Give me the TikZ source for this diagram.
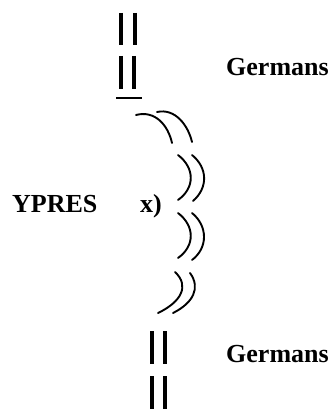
\documentclass[tikz,border=0pt]{standalone}
\usepackage{fontspec}
\setmainfont{Liberation Serif}
\begin{document}
\begin{tikzpicture}[x=1pt,y=-1pt,
  label/.style={anchor=base west,inner sep=0pt,font=\bfseries\fontsize{26}{30}\selectfont},
  trench/.style={line width=3.6pt},
  baseline rule/.style={line width=2.2pt},
  front/.style={line width=1.9pt,line cap=round}]
\useasboundingbox[fill=white] (0,0) rectangle (329,409);

% labels
\node[label] (gtop) at (226,76) {Germans};
\node[label] (ypres) at (12,212) {YPRES};
\node[label] (xmark) at (140,212) {x)};
\node[label] (gbot) at (226,362) {Germans};

% upper double lines
\draw[trench] (121,13) -- (121,45) (135,13) -- (135,45);
\draw[trench] (121,56) -- (121,89) (134,56) -- (134,89);
\draw[baseline rule] (116,98) -- (142,98);

% curved front line
\draw[front] (136,115) .. controls (155,110) and (168,125) .. (172,143);
\draw[front] (157,112) .. controls (175,108) and (188,125) .. (192,142);
\draw[front] (178,155) .. controls (195,168) and (195,188) .. (178,200);
\draw[front] (192,155) .. controls (208,168) and (208,188) .. (193,201);
\draw[front] (178,213) .. controls (195,226) and (195,246) .. (178,258);
\draw[front] (192,213) .. controls (208,226) and (208,248) .. (192,260);
\draw[front] (175,272) .. controls (190,286) and (181,302) .. (158,313);
\draw[front] (190,273) .. controls (201,288) and (193,303) .. (173,313);

% lower double lines
\draw[trench] (152,331) -- (152,364) (165,331) -- (165,364);
\draw[trench] (152,376) -- (152,409) (165,376) -- (165,409);
\end{tikzpicture}
\end{document}
